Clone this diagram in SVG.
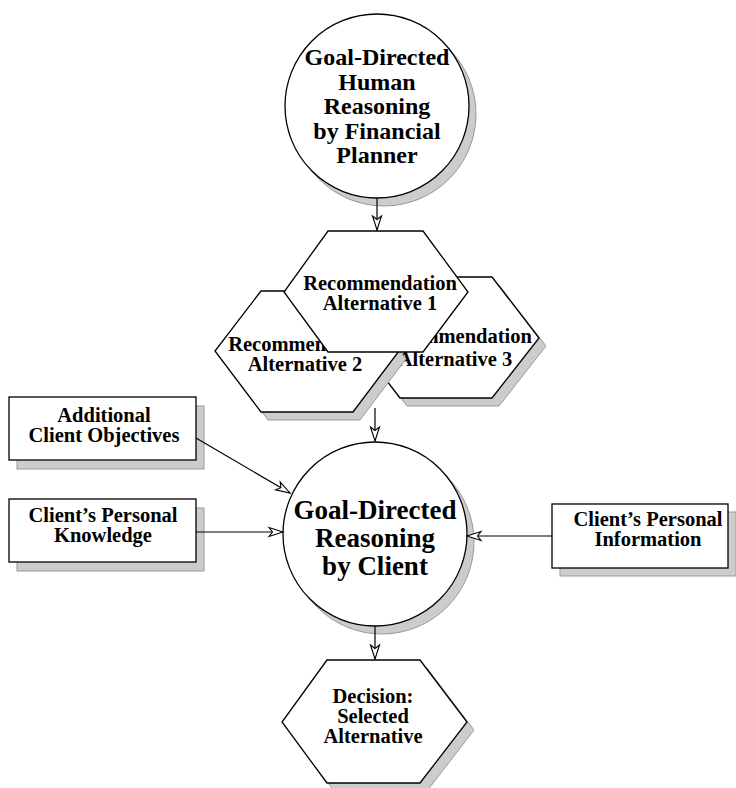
<svg xmlns="http://www.w3.org/2000/svg" width="736" height="788" viewBox="0 0 736 788">
  <defs>
    <style>
      .shape { fill: #ffffff; stroke: #000000; stroke-width: 1.3; }
      .shadow { fill: #cccccc; stroke: #999999; stroke-width: 1; }
      .conn { fill: none; stroke: #000000; stroke-width: 1.2; }
      text { font-family: "Liberation Serif", "Times New Roman", serif; font-weight: bold; fill: #000000; text-anchor: middle; }
      .t25 { font-size: 24px; }
      .t28 { font-size: 27px; }
      .t21 { font-size: 20.5px; }
    </style>
    <marker id="arrow" viewBox="-16 -7 18 14" refX="0" refY="0" markerWidth="18" markerHeight="14" markerUnits="userSpaceOnUse" orient="auto">
      <path d="M0,0 L-14,-4.5 L-10.5,0 L-14,4.5 Z" fill="#ffffff" stroke="#000000" stroke-width="1.1" stroke-linejoin="miter"/>
    </marker>
  </defs>

  <rect width="736" height="788" fill="#ffffff"/>

  <!-- planner reasoning -->
  <g id="planner">
    <circle class="shadow" cx="384" cy="114" r="92"/>
    <circle class="shape" cx="377" cy="106" r="92"/>
    <text class="t25" x="377" y="65">Goal-Directed</text>
    <text class="t25" x="377" y="89.5">Human</text>
    <text class="t25" x="377" y="114">Reasoning</text>
    <text class="t25" x="377" y="138.5">by Financial</text>
    <text class="t25" x="377" y="163">Planner</text>
  </g>

  <!-- alternative 3 (back) -->
  <g id="alt3">
    <path class="shadow" d="M407,285 L499,285 L546,346 L499,406 L407,406 L361,346 Z"/>
    <path class="shape" d="M400,277 L492,277 L539,338 L492,398 L400,398 L354,338 Z"/>
    <text class="t21" x="455" y="343">Recommendation</text>
    <text class="t21" x="455" y="366">Alternative 3</text>
  </g>

  <!-- alternative 2 -->
  <g id="alt2">
    <path class="shadow" d="M268,299 L360,299 L406,359 L360,420 L268,420 L222,359 Z"/>
    <path class="shape" d="M261,291 L353,291 L399,351 L353,412 L261,412 L215,351 Z"/>
    <text class="t21" x="305" y="351">Recommendation</text>
    <text class="t21" x="305" y="371">Alternative 2</text>
  </g>

  <!-- alternative 1 (front) -->
  <g id="alt1">
    <path class="shape" d="M328,231 L423,231 L468,292 L423,352 L328,352 L284,292 Z"/>
    <text class="t21" x="380" y="290">Recommendation</text>
    <text class="t21" x="380" y="310">Alternative 1</text>
  </g>

  <!-- client inputs -->
  <g id="objectives">
    <rect class="shadow" x="17" y="406" width="187" height="63"/>
    <rect class="shape" x="9" y="397" width="187" height="63"/>
    <text class="t21" x="104" y="422">Additional</text>
    <text class="t21" x="104" y="442">Client Objectives</text>
  </g>

  <g id="knowledge">
    <rect class="shadow" x="17" y="508" width="187" height="63"/>
    <rect class="shape" x="9" y="499" width="187" height="63"/>
    <text class="t21" x="103" y="522">Client’s Personal</text>
    <text class="t21" x="103" y="542">Knowledge</text>
  </g>

  <g id="information">
    <rect class="shadow" x="560" y="512" width="176" height="64"/>
    <rect class="shape" x="552" y="504" width="176" height="64"/>
    <text class="t21" x="648" y="526">Client’s Personal</text>
    <text class="t21" x="648" y="546">Information</text>
  </g>

  <!-- client reasoning -->
  <g id="client">
    <circle class="shadow" cx="382" cy="542" r="92"/>
    <circle class="shape" cx="375" cy="534" r="92"/>
    <text class="t28" x="375" y="519">Goal-Directed</text>
    <text class="t28" x="375" y="547">Reasoning</text>
    <text class="t28" x="375" y="575">by Client</text>
  </g>

  <!-- decision -->
  <g id="decision">
    <path class="shadow" d="M334,668 L427,668 L474,730 L427,791 L334,791 L289,730 Z"/>
    <path class="shape" d="M327,660 L420,660 L467,722 L420,783 L327,783 L282,722 Z"/>
    <text class="t21" x="373" y="703">Decision:</text>
    <text class="t21" x="373" y="723">Selected</text>
    <text class="t21" x="373" y="743">Alternative</text>
  </g>

  <!-- connectors -->
  <g id="connectors">
    <line class="conn" x1="377" y1="198" x2="377" y2="230" marker-end="url(#arrow)"/>
    <line class="conn" x1="375" y1="408" x2="375" y2="441" marker-end="url(#arrow)"/>
    <line class="conn" x1="196" y1="438" x2="290" y2="493" marker-end="url(#arrow)"/>
    <line class="conn" x1="196" y1="532" x2="283" y2="532" marker-end="url(#arrow)"/>
    <line class="conn" x1="552" y1="536" x2="467" y2="536" marker-end="url(#arrow)"/>
    <line class="conn" x1="375" y1="626" x2="375" y2="659" marker-end="url(#arrow)"/>
  </g>
</svg>
